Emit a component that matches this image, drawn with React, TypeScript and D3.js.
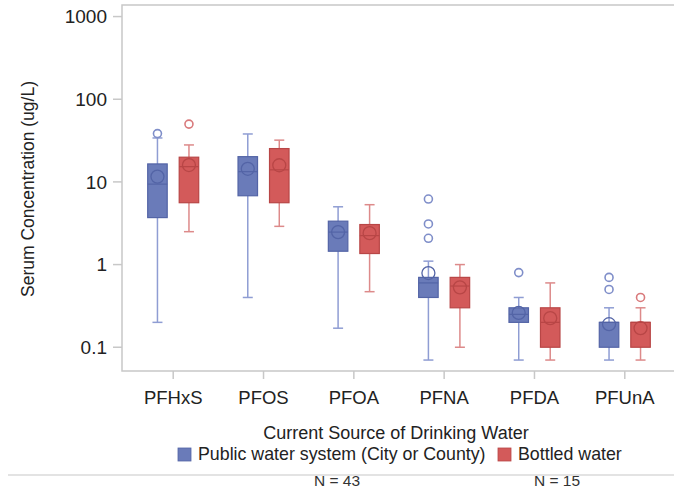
import { useEffect, useRef } from "react";
import * as d3 from "d3";

const categories = ["PFHxS", "PFOS", "PFOA", "PFNA", "PFDA", "PFUnA"];
const yTicks = [0.1, 1, 10, 100, 1000];

// Public water system (City or County)
const publicLow = [0.2, 0.4, 0.17, 0.07, 0.07, 0.07];
const publicQ1 = [3.7, 6.8, 1.45, 0.4, 0.2, 0.1];
const publicMedian = [9.4, 13.3, 2.47, 0.6, 0.25, 0.2];
const publicQ3 = [16.5, 20.2, 3.35, 0.7, 0.3, 0.2];
const publicHigh = [34, 38, 5.0, 1.1, 0.4, 0.3];
const publicMean = [11.6, 14.4, 2.47, 0.79, 0.26, 0.19];
const publicOutliers = [[38.4], [], [], [6.2, 3.1, 2.08], [0.8], [0.7, 0.5]];

// Bottled water
const bottledLow = [2.5, 2.9, 0.47, 0.1, 0.07, 0.07];
const bottledQ1 = [5.6, 5.6, 1.36, 0.3, 0.1, 0.1];
const bottledMedian = [15.3, 14, 2.24, 0.55, 0.2, 0.2];
const bottledQ3 = [19.9, 25.3, 3.05, 0.7, 0.3, 0.2];
const bottledHigh = [28, 32, 5.3, 1.0, 0.6, 0.3];
const bottledMean = [16, 15.9, 2.4, 0.53, 0.225, 0.17];
const bottledOutliers = [[50], [], [], [], [], [0.4]];

const groups = ["Public water system (City or County)", "Bottled water"];
const groupN = ["N = 43", "N = 15"];

export default function App() {
  const svgRef = useRef<SVGSVGElement>(null);

  useEffect(() => {
    if (!svgRef.current) return;
    const svg = d3.select(svgRef.current);
    svg.selectAll("*").remove();

    const width = 674;
    const height = 493;
    const left = 122;
    const right = 676;
    const top = 5;
    const bottom = 371;
    const font = "Liberation Sans, Arial, sans-serif";
    const textColor = "#222";
    const frameColor = "#c8c8c8";

    svg.attr("width", width).attr("height", height);

    const x = d3.scalePoint<string>().domain(categories).range([left, right]).padding(0.567);
    const offset = d3.scalePoint<string>().domain(groups).range([-15.75, 15.75]);
    const y = d3.scaleLog().domain([0.0516, 1380]).range([bottom, top]);
    const boxW = 19.5;

    const styles = [
      { fill: "#6a7bb9", stroke: "#5364a6", whisker: "#8f9dd3", outlier: "#7f8ec9" },
      { fill: "#d35a5a", stroke: "#b84646", whisker: "#dd8a8a", outlier: "#d97a7c" },
    ];

    const series = [
      {
        low: publicLow, q1: publicQ1, med: publicMedian, q3: publicQ3,
        high: publicHigh, mean: publicMean, out: publicOutliers,
      },
      {
        low: bottledLow, q1: bottledQ1, med: bottledMedian, q3: bottledQ3,
        high: bottledHigh, mean: bottledMean, out: bottledOutliers,
      },
    ];

    // Frame
    svg.append("path")
      .attr("d", `M${right},${top}H${left}V${bottom}H${right}`)
      .attr("fill", "none")
      .attr("stroke", frameColor)
      .attr("stroke-width", 1.5);

    // Y axis
    const yAxis = svg.append("g");
    yTicks.forEach((t) => {
      yAxis.append("line")
        .attr("x1", left - 9).attr("x2", left)
        .attr("y1", y(t)).attr("y2", y(t))
        .attr("stroke", frameColor).attr("stroke-width", 1.5);
      yAxis.append("text")
        .attr("x", left - 15).attr("y", y(t)).attr("dy", "0.36em")
        .attr("text-anchor", "end")
        .attr("font-family", font).attr("font-size", 19).attr("fill", textColor)
        .text(d3.format("~g")(t));
    });
    svg.append("text")
      .attr("transform", `translate(34,189) rotate(-90)`)
      .attr("text-anchor", "middle")
      .attr("font-family", font).attr("font-size", 17.5).attr("fill", textColor)
      .text("Serum Concentration (ug/L)");

    // X axis
    categories.forEach((c) => {
      svg.append("line")
        .attr("x1", x(c)!).attr("x2", x(c)!)
        .attr("y1", bottom).attr("y2", bottom + 8)
        .attr("stroke", frameColor).attr("stroke-width", 1.5);
      svg.append("text")
        .attr("x", x(c)!).attr("y", 404)
        .attr("text-anchor", "middle")
        .attr("font-family", font).attr("font-size", 18.5).attr("fill", textColor)
        .text(c);
    });

    // Boxes
    series.forEach((s, gi) => {
      const st = styles[gi];
      const g = svg.append("g");
      categories.forEach((c, i) => {
        const cx = x(c)! + offset(groups[gi])!;
        // whisker
        g.append("line")
          .attr("x1", cx).attr("x2", cx)
          .attr("y1", y(s.low[i])).attr("y2", y(s.high[i]))
          .attr("stroke", st.whisker).attr("stroke-width", 1.5);
        [s.low[i], s.high[i]].forEach((v) => {
          g.append("line")
            .attr("x1", cx - 5).attr("x2", cx + 5)
            .attr("y1", y(v)).attr("y2", y(v))
            .attr("stroke", st.whisker).attr("stroke-width", 1.5);
        });
        // box
        g.append("rect")
          .attr("x", cx - boxW / 2).attr("width", boxW)
          .attr("y", y(s.q3[i])).attr("height", Math.max(1, y(s.q1[i]) - y(s.q3[i])))
          .attr("fill", st.fill).attr("stroke", st.stroke).attr("stroke-width", 1.2);
        // median
        g.append("line")
          .attr("x1", cx - boxW / 2).attr("x2", cx + boxW / 2)
          .attr("y1", y(s.med[i])).attr("y2", y(s.med[i]))
          .attr("stroke", st.stroke).attr("stroke-width", 1.2);
        // mean
        g.append("circle")
          .attr("cx", cx).attr("cy", y(s.mean[i])).attr("r", 6.5)
          .attr("fill", "none").attr("stroke", st.stroke).attr("stroke-width", 1.3);
        // outliers
        s.out[i].forEach((v) => {
          g.append("circle")
            .attr("cx", cx).attr("cy", y(v)).attr("r", 4)
            .attr("fill", "none").attr("stroke", st.outlier).attr("stroke-width", 1.6);
        });
      });
    });

    // Legend
    svg.append("text")
      .attr("x", 396).attr("y", 439)
      .attr("text-anchor", "middle")
      .attr("font-family", font).attr("font-size", 18).attr("fill", textColor)
      .text("Current Source of Drinking Water");

    const legendX = [178, 498];
    groups.forEach((name, gi) => {
      svg.append("rect")
        .attr("x", legendX[gi]).attr("y", 448)
        .attr("width", 13).attr("height", 13)
        .attr("fill", styles[gi].fill).attr("stroke", styles[gi].stroke).attr("stroke-width", 0.8);
      svg.append("text")
        .attr("x", legendX[gi] + 20).attr("y", 460)
        .attr("font-family", font).attr("font-size", 17.8).attr("fill", textColor)
        .text(name);
    });

    // Bottom rule and group sizes
    svg.append("line")
      .attr("x1", 8).attr("x2", width)
      .attr("y1", 475).attr("y2", 475)
      .attr("stroke", frameColor).attr("stroke-width", 1.2);
    const nX = [337, 557];
    groupN.forEach((t, i) => {
      svg.append("text")
        .attr("x", nX[i]).attr("y", 486)
        .attr("text-anchor", "middle")
        .attr("font-family", font).attr("font-size", 15.5).attr("fill", "#333")
        .text(t);
    });
  }, []);

  return <svg ref={svgRef} style={{ position: "absolute", left: 0, top: 0 }} />;
}
